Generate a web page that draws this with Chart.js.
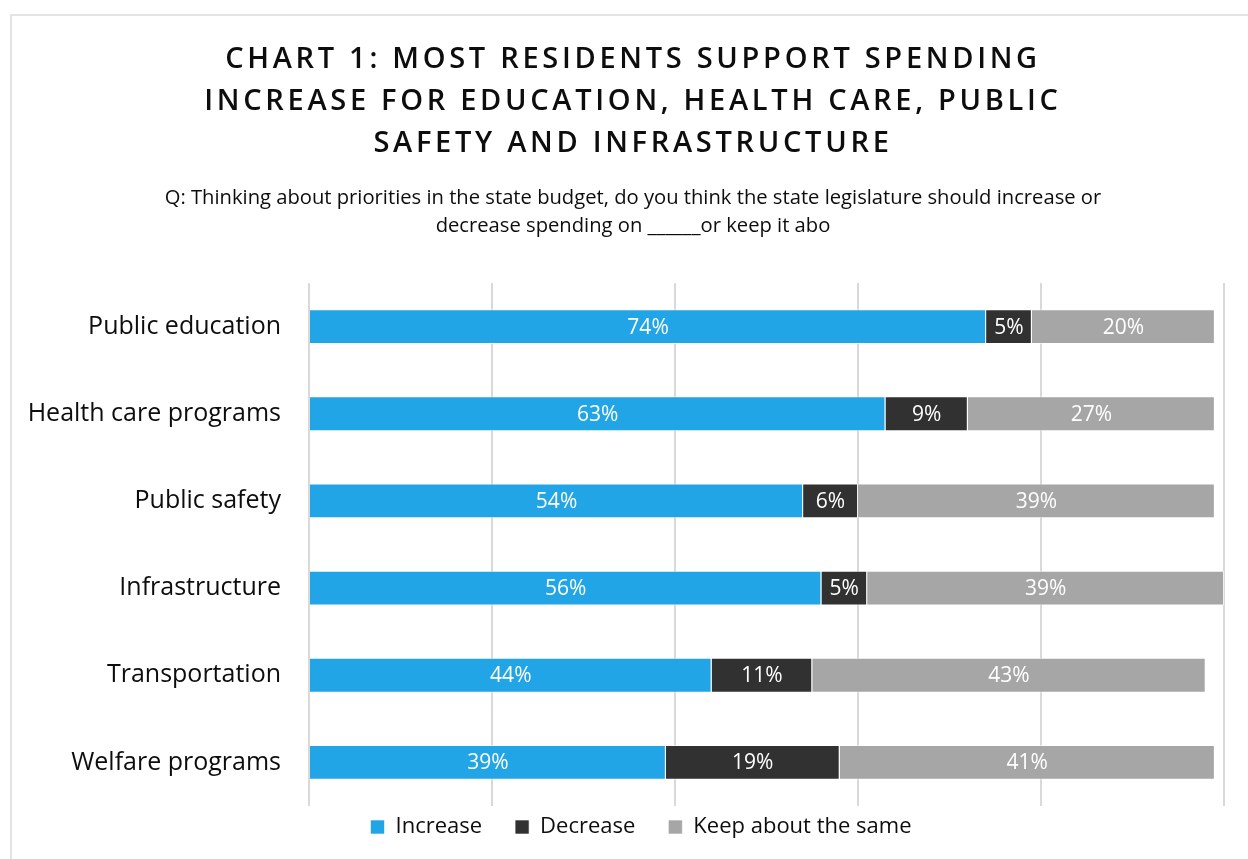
<!DOCTYPE html>
<html>
  <head>
    <meta charset="utf-8">
    <title>Spending priorities</title>
    <style>
      body {
        margin: 0;
        font-family: "Open Sans", "Noto Sans", sans-serif;
        background: #fff;
      }
      .frame {
        position: absolute;
        left: 10px;
        top: 14px;
        width: 1260px;
        height: 880px;
        border: 2px solid #e3e3e3;
      }
      .title {
        position: absolute;
        left: 0;
        top: 36px;
        width: 1266px;
        text-align: center;
        font-size: 29px;
        font-weight: 600;
        letter-spacing: 3.7px;
        line-height: 42px;
        color: #0d0d0d;
      }
      .subtitle {
        position: absolute;
        left: 0;
        top: 182px;
        width: 1266px;
        text-align: center;
        font-size: 20.2px;
        line-height: 28px;
        color: #0d0d0d;
      }
      #spendChart {
        position: absolute;
        left: 0;
        top: 0;
      }
    </style>
    <script src="https://cdn.jsdelivr.net/npm/chart.js"></script>
  </head>

  <body>
    <div class="frame"></div>
    <canvas id="spendChart" width="1248" height="859"></canvas>
    <div class="title">CHART 1: MOST RESIDENTS SUPPORT SPENDING<br>INCREASE FOR EDUCATION, HEALTH CARE, PUBLIC<br>SAFETY AND INFRASTRUCTURE</div>
    <div class="subtitle">Q: Thinking about priorities in the state budget, do you think the state legislature should increase or<br>decrease spending on ______or keep it abo</div>

    <script>
      const categories = [
        "Public education",
        "Health care programs",
        "Public safety",
        "Infrastructure",
        "Transportation",
        "Welfare programs"
      ];
      const increaseVals = [74, 63, 54, 56, 44, 39];
      const decreaseVals = [5, 9, 6, 5, 11, 19];
      const sameVals = [20, 27, 39, 39, 43, 41];

      const seriesNames = ["Increase", "Decrease", "Keep about the same"];
      const seriesColors = ["#21a5e6", "#323131", "#a6a6a6"];

      const FONT = '"Open Sans", "Noto Sans", sans-serif';
      // the legend is tucked up under the plot and nudged right of centre
      const LEGEND_LIFT = 23;
      const LEGEND_SHIFT = 29;

      // writes the percentage in the middle of every bar segment
      const segmentLabels = {
        id: "segmentLabels",
        afterDatasetsDraw(chart) {
          const ctx = chart.ctx;
          ctx.save();
          ctx.fillStyle = "#ffffff";
          ctx.font = "21px " + FONT;
          ctx.textAlign = "center";
          ctx.textBaseline = "middle";
          chart.data.datasets.forEach((ds, i) => {
            const meta = chart.getDatasetMeta(i);
            meta.data.forEach((bar, j) => {
              const cx = (bar.x + bar.base) / 2;
              ctx.fillText(ds.data[j] + "%", cx, bar.y + 1);
            });
          });
          ctx.restore();
        }
      };

      const placeLegend = {
        id: "placeLegend",
        afterLayout(chart) {
          const lg = chart.legend;
          if (!lg) return;
          lg.top -= LEGEND_LIFT;
          lg.bottom -= LEGEND_LIFT;
          lg.left += LEGEND_SHIFT;
          lg.right += LEGEND_SHIFT;
        }
      };

      const datasets = [increaseVals, decreaseVals, sameVals].map((vals, i) => ({
        label: seriesNames[i],
        data: vals,
        backgroundColor: seriesColors[i],
        borderColor: "rgba(255,255,255,0.6)",
        borderWidth: 1,
        categoryPercentage: 0.8,
        barPercentage: 0.5
      }));

      new Chart(document.getElementById("spendChart"), {
        type: "bar",
        data: { labels: categories, datasets: datasets },
        plugins: [segmentLabels, placeLegend],
        options: {
          indexAxis: "y",
          responsive: false,
          animation: false,
          layout: { padding: { top: 283, right: 24, left: 0, bottom: -12 } },
          plugins: {
            tooltip: { enabled: false },
            legend: {
              position: "bottom",
              labels: {
                boxWidth: 14,
                boxHeight: 14,
                padding: 33,
                color: "#0d0d0d",
                font: { family: FONT, size: 22 }
              }
            }
          },
          scales: {
            x: {
              stacked: true,
              min: 0,
              max: 100,
              ticks: { display: false, stepSize: 20 },
              grid: { color: "#d9d9d9", lineWidth: 2, drawTicks: false },
              border: { display: false }
            },
            y: {
              stacked: true,
              grid: { display: false },
              border: { display: false },
              ticks: {
                color: "#0d0d0d",
                padding: 20,
                font: { family: FONT, size: 25 }
              },
              afterFit(scale) {
                scale.width = 309;
              }
            }
          }
        }
      });
    </script>
  </body>
</html>
